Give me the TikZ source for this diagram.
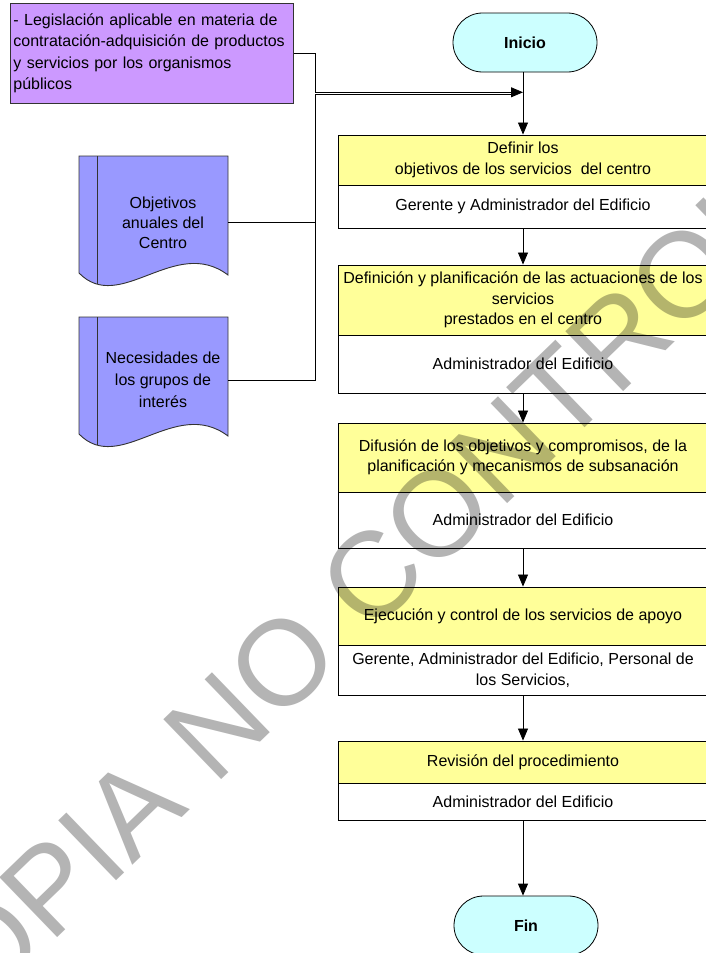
\documentclass[tikz,border=0pt]{standalone}
\usepackage{fontspec}
\setmainfont{Liberation Sans}
\usetikzlibrary{arrows.meta,calc}
\definecolor{yel}{HTML}{FFFF99}
\definecolor{purp}{HTML}{CC99FF}
\definecolor{docc}{HTML}{9999FF}
\definecolor{termc}{HTML}{CCFFFF}
\definecolor{wmc}{HTML}{B4B4B4}
\begin{document}
\begin{tikzpicture}[x=1pt,y=-1pt,
  basefont/.style={font=\fontsize{16}{20.5}\selectfont},
  stepbox/.style={draw=black, line width=0.9pt, fill=yel, minimum width=370pt, inner sep=0pt, align=center, basefont},
  whobox/.style={draw=black, line width=0.9pt, fill=white, minimum width=370pt, inner sep=0pt, align=center, basefont},
  legbox/.style={draw=black!80, line width=0.9pt, fill=purp, minimum width=283pt, minimum height=100pt, text width=277pt, inner xsep=3pt, inner ysep=0pt, align=left, font=\fontsize{16}{21.5}\selectfont},
  docshape/.style={draw=black!80, line width=0.9pt, fill=docc},
  doctext/.style={align=center, inner sep=0pt},
  term/.style={draw=black, line width=0.8pt, fill=termc, rounded corners=29.5pt, minimum width=144pt, minimum height=59pt, font=\fontsize{16}{20}\selectfont\bfseries},
  arr/.style={-{Triangle[width=10pt,length=12pt]}, line width=0.8pt},
  conn/.style={line width=0.8pt},
  wmark/.style={text=wmc, font=\fontsize{121}{121}\selectfont, inner sep=0pt}
]
\useasboundingbox (0,0) rectangle (706,953);
\clip (0,0) rectangle (706,953);
\fill[white] (0,0) rectangle (706,953);

% legislation box
\node[legbox, anchor=north west] (leg) at (10,3)
  {- Legislación aplicable en materia de\\contratación-adquisición de productos\\y servicios por los organismos\\públicos};

% documents
\draw[docshape] (79,156) -- (228,156) -- (228,275) .. controls (175,235) and (120,315) .. (79,273) -- cycle;
\draw[line width=0.9pt, black!80] (97,156) -- (97,284);
\node[doctext, font=\fontsize{16}{20}\selectfont] (obj) at (163,223) {Objetivos\\anuales del\\Centro};
\coordinate (objR) at (228,222);

\begin{scope}[shift={(0,161)}]
\draw[docshape] (79,156) -- (228,156) -- (228,275) .. controls (175,235) and (120,315) .. (79,273) -- cycle;
\draw[line width=0.9pt, black!80] (97,156) -- (97,284);
\end{scope}
\node[doctext, font=\fontsize{16}{22}\selectfont] (nec) at (163,380) {Necesidades de\\los grupos de\\interés};
\coordinate (necR) at (228,380);

% terminals
\node[term] (ini) at (525,42.5) {Inicio};
\node[term] (fin) at (526,925.5) {Fin};

% steps
\node[stepbox, minimum height=50pt] (s1) at (523,160) {Definir los\\objetivos de los servicios\ \ del centro};
\node[whobox, minimum height=43pt] (r1) at (523,206.5) {Gerente y Administrador del Edificio};

\node[stepbox, minimum height=70pt] (s2) at (523,300) {Definición y planificación de las actuaciones de los\\servicios\\prestados en el centro};
\node[whobox, minimum height=58pt] (r2) at (523,364) {Administrador del Edificio};

\node[stepbox, minimum height=69pt] (s3) at (523,457.5) {Difusión de los objetivos y compromisos, de la\\planificación y mecanismos de subsanación};
\node[whobox, minimum height=56pt] (r3) at (523,520) {Administrador del Edificio};

\node[stepbox, minimum height=58pt] (s4) at (523,616) {Ejecución y control de los servicios de apoyo};
\node[whobox, minimum height=50pt] (r4) at (523,670) {Gerente, Administrador del Edificio, Personal de\\los Servicios,};

\node[stepbox, minimum height=42pt] (s5) at (523,762) {Revisión del procedimiento};
\node[whobox, minimum height=37pt] (r5) at (523,801.5) {Administrador del Edificio};

% flow arrows
\draw[arr] (ini.south -| s1.north) -- (s1.north);
\draw[arr] (r1.south) -- (s2.north);
\draw[arr] (r2.south) -- (s3.north);
\draw[arr] (r3.south) -- (s4.north);
\draw[arr] (r4.south) -- (s5.north);
\draw[arr] (r5.south) -- (fin.north -| r5.south);

% input connectors
\coordinate (j1) at (315,92.3);
\coordinate (t1) at (523,92.3);
\coordinate (j2) at (315,94.6);
\coordinate (t2) at (512,94.6);
\draw[arr] (leg.east |- 0,53) -| (j1) -- (t1);
\draw[conn] (objR) -- (objR -| j2);
\draw[conn] (necR) -| (j2) -- (t2);

% watermark
\node[wmark, rotate=44, blend mode=multiply] (wm) at (418,532) {COPIA NO CONTROLADA};
\end{tikzpicture}
\end{document}
